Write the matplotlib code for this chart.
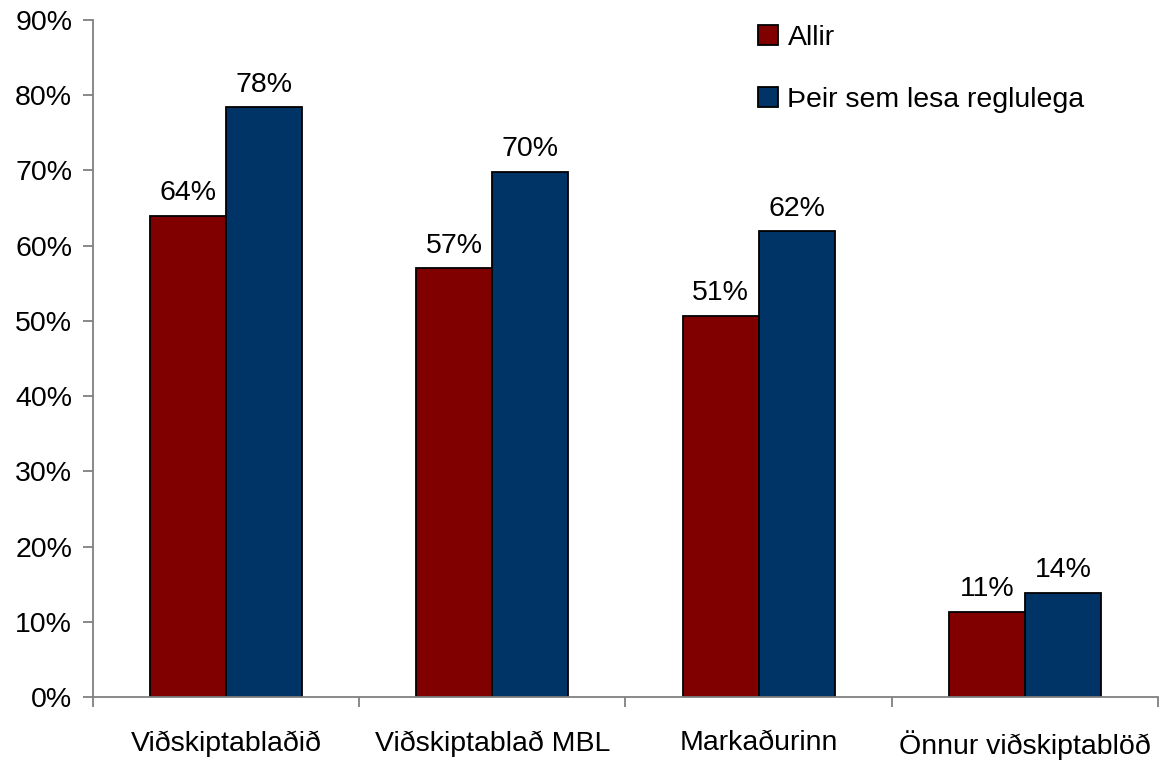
import matplotlib.pyplot as plt
import numpy as np
from matplotlib.ticker import PercentFormatter, FixedLocator

plt.rcParams['font.family'] = ['Liberation Sans', 'DejaVu Sans']

categories = ['Viðskiptablaðið', 'Viðskiptablað MBL', 'Markaðurinn', 'Önnur viðskiptablöð']
allir = [64.0, 57.0, 50.7, 11.3]
reglulega = [78.4, 69.8, 61.9, 13.8]
allir_labels = ['64%', '57%', '51%', '11%']
reglulega_labels = ['78%', '70%', '62%', '14%']

FS = 20.5

fig = plt.figure(figsize=(11.64, 7.6), dpi=100)
ax = fig.add_axes([0.0799, 0.0829, 0.9149, 0.8908])

x = np.arange(len(categories))
w = 1 / 3.5
b1 = ax.bar(x - w / 2, allir, w, color='#800000', edgecolor='black', linewidth=1.3, label='Allir')
b2 = ax.bar(x + w / 2, reglulega, w, color='#003366', edgecolor='black', linewidth=1.3,
            label='Þeir sem lesa reglulega')

for bars, labels in [(b1, allir_labels), (b2, reglulega_labels)]:
    for bar, lab in zip(bars, labels):
        ax.annotate(lab, (bar.get_x() + bar.get_width() / 2, bar.get_height()),
                    xytext=(0, 7), textcoords='offset points', ha='center', va='bottom',
                    fontsize=FS)

ax.set_xlim(-0.5, 3.5)
ax.set_ylim(0, 90)
ax.set_yticks(range(0, 91, 10))
ax.yaxis.set_major_formatter(PercentFormatter(decimals=0))
ax.set_xticks(x)
ax.set_xticklabels(categories)
ax.xaxis.set_minor_locator(FixedLocator([-0.5, 0.5, 1.5, 2.5, 3.5]))

for s in ['top', 'right']:
    ax.spines[s].set_visible(False)
for s in ['left', 'bottom']:
    ax.spines[s].set_color('#808080')
    ax.spines[s].set_linewidth(1.3)

ax.tick_params(axis='y', labelsize=FS, length=7, width=1.3, color='#808080', pad=8)
ax.tick_params(axis='x', which='major', labelsize=FS, length=0, pad=24)
ax.tick_params(axis='x', which='minor', length=7, width=1.3, color='#808080')

ax.legend(loc='upper left', bbox_to_anchor=(0.6, 1.03), frameon=False, fontsize=FS,
          handlelength=0.7, handleheight=0.7, handletextpad=0.35, labelspacing=1.25)

fig.savefig('out.png', dpi=100)
